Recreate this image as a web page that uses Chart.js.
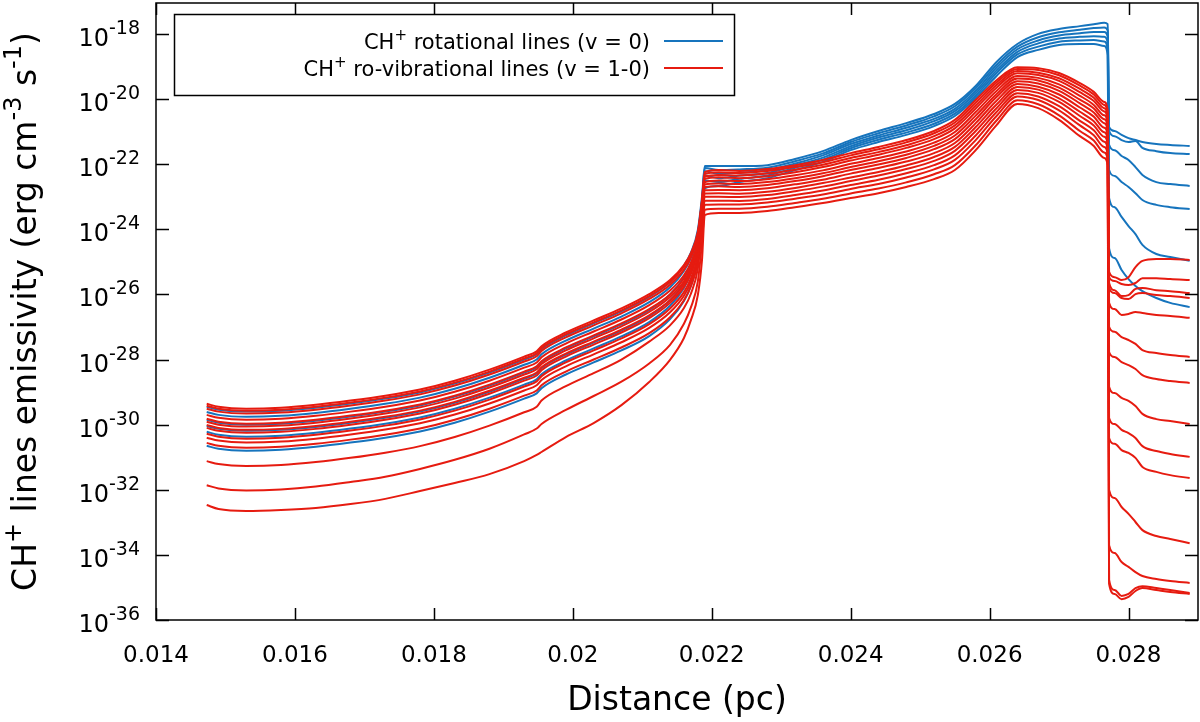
<!DOCTYPE html>
<html>
<head>
<meta charset="utf-8">
<script src="https://cdn.jsdelivr.net/npm/chart.js@4/dist/chart.umd.min.js"></script>
<style>
  html, body { margin: 0; padding: 0; background: #fff; }
  #contenedor { width: 1200px; height: 722px; }
</style>
</head>
<body>
<div id="contenedor"><canvas id="grafico" width="1200" height="722"></canvas></div>
<script>
// Distancia (pc), eje comun de todas las curvas
const distancia = [0.01473, 0.0149, 0.0153, 0.0158, 0.0163, 0.0168, 0.0173, 0.0178, 0.0183, 0.0188, 0.0193, 0.01948, 0.01955, 0.0199, 0.0203, 0.0207, 0.0211, 0.0214, 0.0216, 0.0217, 0.0218, 0.02186, 0.0219,
    0.0221, 0.0224, 0.0228, 0.0232, 0.0236, 0.0240, 0.0244, 0.0248, 0.0252, 0.0255, 0.0258, 0.0261, 0.0264, 0.0267, 0.0270, 0.0273, 0.0275, 0.02765, 0.0277,
    0.02772, 0.0278, 0.0279, 0.0280, 0.0281, 0.0282, 0.0284, 0.0286, 0.02888];

// log10 de la emisividad, lineas rotacionales (v = 0)
const rot1 = [-29.45, -29.54, -29.60, -29.57, -29.48, -29.35, -29.20, -29.01, -28.74, -28.40, -28.00, -27.84, -27.68, -27.26, -26.89, -26.52, -26.08, -25.62, -25.12, -24.72, -24.02, -23.00, -22.06,
    -22.06, -22.06, -22.03, -21.84, -21.60, -21.26, -20.98, -20.74, -20.46, -20.15, -19.60, -18.86, -18.31, -18.00, -17.85, -17.76, -17.70, -17.66, -17.70,
    -20.86, -20.98, -21.10, -21.20, -21.26, -21.32, -21.38, -21.41, -21.44];
const rot2 = [-29.61, -29.70, -29.76, -29.73, -29.64, -29.51, -29.36, -29.17, -28.90, -28.56, -28.16, -28.00, -27.84, -27.42, -27.05, -26.68, -26.24, -25.78, -25.28, -24.88, -24.18, -23.12, -22.12,
    -22.18, -22.16, -22.11, -21.91, -21.67, -21.32, -21.05, -20.81, -20.53, -20.22, -19.67, -18.95, -18.39, -18.10, -17.95, -17.87, -17.82, -17.80, -17.89,
    -20.98, -21.14, -21.26, -21.32, -21.29, -21.50, -21.60, -21.66, -21.69];
const rot3 = [-29.85, -29.94, -30.00, -29.97, -29.88, -29.75, -29.60, -29.41, -29.14, -28.80, -28.40, -28.24, -28.08, -27.66, -27.29, -26.92, -26.48, -26.00, -25.48, -25.06, -24.33, -23.22, -22.22,
    -22.30, -22.26, -22.19, -21.98, -21.73, -21.38, -21.12, -20.88, -20.61, -20.30, -19.75, -19.03, -18.47, -18.20, -18.05, -17.98, -17.94, -17.94, -18.08,
    -21.41, -21.57, -21.75, -21.87, -22.09, -22.33, -22.55, -22.61, -22.67];
const rot4 = [-30.04, -30.13, -30.19, -30.16, -30.07, -29.94, -29.79, -29.60, -29.33, -28.99, -28.59, -28.43, -28.27, -27.85, -27.48, -27.11, -26.67, -26.18, -25.65, -25.21, -24.46, -23.32, -22.35,
    -22.43, -22.35, -22.27, -22.04, -21.80, -21.45, -21.18, -20.96, -20.68, -20.37, -19.82, -19.12, -18.55, -18.29, -18.14, -18.09, -18.07, -18.09, -18.27,
    -22.18, -22.36, -22.55, -22.70, -22.89, -23.10, -23.25, -23.32, -23.38];
const rot5 = [-30.22, -30.31, -30.37, -30.34, -30.25, -30.12, -29.97, -29.78, -29.51, -29.17, -28.77, -28.61, -28.45, -28.03, -27.66, -27.29, -26.85, -26.35, -25.80, -25.35, -24.58, -23.42, -22.50,
    -22.55, -22.45, -22.35, -22.11, -21.86, -21.51, -21.25, -21.03, -20.76, -20.45, -19.90, -19.20, -18.63, -18.39, -18.24, -18.20, -18.19, -18.23, -18.46,
    -23.04, -23.32, -23.62, -23.90, -24.15, -24.48, -24.76, -24.85, -24.97];
const rot6 = [-30.65, -30.74, -30.80, -30.77, -30.68, -30.55, -30.40, -30.21, -29.94, -29.60, -29.20, -29.04, -28.88, -28.46, -28.09, -27.72, -27.28, -26.76, -26.20, -25.74, -24.93, -23.70, -22.74,
    -22.67, -22.55, -22.43, -22.18, -21.93, -21.57, -21.32, -21.10, -20.83, -20.52, -19.97, -19.29, -18.71, -18.49, -18.34, -18.31, -18.31, -18.37, -18.65,
    -24.58, -24.88, -25.25, -25.53, -25.74, -25.90, -26.11, -26.26, -26.39];

// log10 de la emisividad, lineas ro-vibracionales (v = 1-0)
const rovib1 = [-29.36, -29.45, -29.51, -29.48, -29.39, -29.26, -29.11, -28.92, -28.65, -28.31, -27.91, -27.75, -27.59, -27.17, -26.80, -26.43, -25.99, -25.56, -25.10, -24.73, -24.08, -23.10, -22.24,
    -22.18, -22.21, -22.15, -22.03, -21.87, -21.66, -21.47, -21.26, -20.98, -20.64, -20.03, -19.42, -19.02, -19.05, -19.20, -19.51, -19.78, -20.09, -20.34,
    -25.31, -25.47, -25.56, -25.47, -25.16, -24.97, -24.91, -24.91, -24.94];
const rovib2 = [-29.42, -29.51, -29.57, -29.54, -29.45, -29.32, -29.17, -28.98, -28.71, -28.37, -27.97, -27.81, -27.65, -27.23, -26.86, -26.49, -26.05, -25.62, -25.15, -24.78, -24.13, -23.14, -22.30,
    -22.25, -22.27, -22.21, -22.09, -21.94, -21.73, -21.54, -21.33, -21.05, -20.72, -20.11, -19.49, -19.08, -19.11, -19.27, -19.59, -19.86, -20.18, -20.42,
    -25.47, -25.59, -25.68, -25.71, -25.65, -25.50, -25.50, -25.53, -25.56];
const rovib3 = [-29.51, -29.60, -29.66, -29.63, -29.54, -29.41, -29.26, -29.07, -28.80, -28.46, -28.06, -27.90, -27.74, -27.32, -26.95, -26.58, -26.14, -25.70, -25.24, -24.86, -24.19, -23.19, -22.38,
    -22.33, -22.35, -22.29, -22.17, -22.02, -21.81, -21.63, -21.42, -21.14, -20.81, -20.20, -19.57, -19.14, -19.19, -19.36, -19.69, -19.96, -20.28, -20.53,
    -25.65, -25.87, -26.05, -26.02, -25.83, -25.80, -25.87, -25.90, -25.96];
const rovib4 = [-29.70, -29.79, -29.85, -29.82, -29.73, -29.60, -29.45, -29.26, -28.99, -28.65, -28.25, -28.09, -27.93, -27.51, -27.14, -26.77, -26.33, -25.88, -25.41, -25.02, -24.34, -23.30, -22.45,
    -22.40, -22.43, -22.37, -22.25, -22.09, -21.89, -21.71, -21.50, -21.23, -20.90, -20.29, -19.65, -19.21, -19.26, -19.44, -19.79, -20.06, -20.38, -20.63,
    -25.80, -25.96, -26.11, -26.14, -25.99, -25.96, -26.02, -26.05, -26.11];
const rovib5 = [-29.82, -29.91, -29.97, -29.94, -29.85, -29.72, -29.57, -29.38, -29.11, -28.77, -28.37, -28.21, -28.05, -27.63, -27.26, -26.89, -26.45, -26.00, -25.51, -25.12, -24.42, -23.38, -22.55,
    -22.50, -22.52, -22.46, -22.34, -22.19, -21.99, -21.81, -21.61, -21.34, -21.01, -20.40, -19.75, -19.29, -19.35, -19.55, -19.90, -20.18, -20.50, -20.75,
    -26.26, -26.45, -26.63, -26.60, -26.54, -26.57, -26.63, -26.66, -26.72];
const rovib6 = [-29.91, -30.00, -30.06, -30.03, -29.94, -29.81, -29.66, -29.47, -29.20, -28.86, -28.46, -28.30, -28.14, -27.72, -27.35, -26.98, -26.54, -26.08, -25.60, -25.20, -24.49, -23.43, -22.62,
    -22.59, -22.61, -22.55, -22.43, -22.28, -22.09, -21.91, -21.71, -21.44, -21.12, -20.51, -19.85, -19.37, -19.43, -19.65, -20.02, -20.29, -20.62, -20.86,
    -27.00, -27.15, -27.31, -27.40, -27.52, -27.71, -27.80, -27.86, -27.92];
const rovib7 = [-30.01, -30.10, -30.16, -30.13, -30.04, -29.91, -29.76, -29.57, -29.30, -28.96, -28.56, -28.40, -28.24, -27.82, -27.45, -27.08, -26.64, -26.18, -25.69, -25.28, -24.57, -23.49, -22.70,
    -22.68, -22.70, -22.64, -22.52, -22.37, -22.18, -22.01, -21.81, -21.54, -21.23, -20.62, -19.94, -19.45, -19.52, -19.75, -20.13, -20.41, -20.74, -20.98,
    -27.77, -27.92, -28.08, -28.17, -28.29, -28.48, -28.60, -28.66, -28.72];
const rovib8 = [-30.10, -30.19, -30.25, -30.22, -30.13, -30.00, -29.85, -29.66, -29.39, -29.05, -28.65, -28.49, -28.33, -27.91, -27.54, -27.17, -26.73, -26.26, -25.77, -25.36, -24.64, -23.54, -22.80,
    -22.79, -22.80, -22.74, -22.62, -22.48, -22.29, -22.12, -21.92, -21.66, -21.35, -20.74, -20.05, -19.54, -19.62, -19.86, -20.26, -20.54, -20.88, -21.12,
    -28.84, -29.03, -29.18, -29.27, -29.43, -29.67, -29.83, -29.89, -29.98];
const rovib9 = [-30.28, -30.37, -30.43, -30.40, -30.31, -30.18, -30.03, -29.84, -29.57, -29.23, -28.83, -28.67, -28.51, -28.09, -27.72, -27.35, -26.91, -26.43, -25.93, -25.51, -24.77, -23.65, -22.90,
    -22.89, -22.91, -22.85, -22.73, -22.58, -22.41, -22.24, -22.04, -21.78, -21.47, -20.86, -20.17, -19.63, -19.71, -19.98, -20.39, -20.68, -21.02, -21.25,
    -29.80, -29.98, -30.16, -30.26, -30.41, -30.66, -30.81, -30.90, -30.99];
const rovib10 = [-30.40, -30.49, -30.55, -30.52, -30.43, -30.30, -30.15, -29.96, -29.69, -29.35, -28.95, -28.79, -28.63, -28.21, -27.84, -27.47, -27.03, -26.55, -26.04, -25.61, -24.86, -23.72, -23.00,
    -23.00, -23.01, -22.95, -22.83, -22.69, -22.52, -22.35, -22.15, -21.90, -21.59, -20.98, -20.28, -19.72, -19.81, -20.09, -20.52, -20.81, -21.16, -21.39,
    -30.41, -30.59, -30.78, -30.87, -31.02, -31.30, -31.45, -31.55, -31.64];
const rovib11 = [-30.56, -30.65, -30.71, -30.68, -30.59, -30.46, -30.31, -30.12, -29.85, -29.51, -29.11, -28.95, -28.79, -28.37, -28.00, -27.63, -27.19, -26.70, -26.18, -25.75, -24.98, -23.82, -23.12,
    -23.12, -23.13, -23.07, -22.95, -22.81, -22.64, -22.48, -22.28, -22.03, -21.73, -21.12, -20.40, -19.82, -19.92, -20.22, -20.67, -20.96, -21.31, -21.54,
    -32.01, -32.25, -32.53, -32.74, -32.99, -33.24, -33.42, -33.51, -33.64];
const rovib12 = [-31.12, -31.21, -31.27, -31.24, -31.15, -31.02, -30.86, -30.66, -30.38, -30.03, -29.62, -29.45, -29.26, -28.82, -28.42, -28.00, -27.45, -26.95, -26.42, -25.98, -25.20, -24.00, -23.25,
    -23.24, -23.24, -23.18, -23.06, -22.93, -22.76, -22.61, -22.41, -22.16, -21.87, -21.26, -20.52, -19.92, -20.03, -20.35, -20.81, -21.11, -21.47, -21.69,
    -33.70, -33.94, -34.22, -34.37, -34.53, -34.65, -34.74, -34.80, -34.86];
const rovib13 = [-31.86, -31.96, -32.02, -31.99, -31.90, -31.76, -31.60, -31.36, -31.08, -30.74, -30.30, -30.12, -29.98, -29.55, -29.12, -28.68, -28.12, -27.55, -26.90, -26.40, -25.60, -24.40, -23.40,
    -23.37, -23.37, -23.31, -23.19, -23.06, -22.90, -22.75, -22.56, -22.31, -22.03, -21.42, -20.66, -20.04, -20.16, -20.50, -20.98, -21.27, -21.64, -21.86,
    -34.77, -35.08, -35.26, -35.20, -35.02, -34.96, -35.02, -35.08, -35.17];
const rovib14 = [-32.47, -32.59, -32.65, -32.62, -32.56, -32.44, -32.28, -32.04, -31.79, -31.52, -31.12, -30.93, -30.84, -30.38, -29.95, -29.40, -28.69, -28.01, -27.34, -26.79, -26.02, -24.94, -23.56,
    -23.50, -23.50, -23.44, -23.32, -23.19, -23.04, -22.89, -22.70, -22.46, -22.18, -21.57, -20.80, -20.15, -20.28, -20.64, -21.14, -21.44, -21.81, -22.03,
    -34.89, -35.20, -35.36, -35.29, -35.11, -35.02, -35.08, -35.14, -35.20];

// Marcas de los ejes
const ticksX = [0.014, 0.016, 0.018, 0.020, 0.022, 0.024, 0.026, 0.028];
const etiquetasX = ["0.014", "0.016", "0.018", "0.02", "0.022", "0.024", "0.026", "0.028"];
const exponentesY = [-36, -34, -32, -30, -28, -26, -24, -22, -20, -18];

const AZUL = "#1674bd";
const ROJO = "#e61b10";
const FUENTE = '"DejaVu Sans", "Liberation Sans", sans-serif';

const rotacionales = [rot1, rot2, rot3, rot4, rot5, rot6];
const rovibracionales = [rovib1, rovib2, rovib3, rovib4, rovib5, rovib6, rovib7, rovib8, rovib9, rovib10, rovib11, rovib12, rovib13, rovib14];

// Convierte una serie de log10 en un dataset de Chart.js
const crearSerie = (valores, color, orden) => ({
    data: valores.map((v, i) => ({ x: distancia[i], y: Math.pow(10, v) })),
    borderColor: color,
    borderWidth: 2,
    pointRadius: 0,
    fill: false,
    cubicInterpolationMode: "monotone",
    order: orden,
});

// Texto con superindices: partes = [[texto, esSuperindice], ...]
const anchoTexto = (ctx, partes, tam, tamSup) => partes.reduce((ancho, [t, sup]) => {
    ctx.font = `${sup ? tamSup : tam}px ${FUENTE}`;
    return ancho + ctx.measureText(t).width;
}, 0);

const escribir = (ctx, partes, x, y, tam, alineacion, tamSup = Math.round(tam * 0.72), subida = tam * 0.45) => {
    const ancho = anchoTexto(ctx, partes, tam, tamSup);
    let cx = alineacion === "right" ? x - ancho : alineacion === "center" ? x - ancho / 2 : x;
    ctx.textAlign = "left";
    ctx.textBaseline = "alphabetic";
    partes.forEach(([t, sup]) => {
        ctx.font = `${sup ? tamSup : tam}px ${FUENTE}`;
        ctx.fillText(t, cx, sup ? y - subida : y);
        cx += ctx.measureText(t).width;
    });
};

// Marco, marcas, etiquetas, titulos y leyenda al estilo gnuplot
const marcoGnuplot = {
    id: "marcoGnuplot",
    afterDraw(chart) {
        const { ctx, chartArea: a, scales: { x, y } } = chart;
        ctx.save();
        ctx.strokeStyle = "#000";
        ctx.fillStyle = "#000";
        ctx.lineWidth = 1.5;
        ctx.strokeRect(a.left, a.top, a.right - a.left, a.bottom - a.top);

        ctx.beginPath();
        ticksX.forEach(v => {
            const px = Math.round(x.getPixelForValue(v)) + 0.5;
            ctx.moveTo(px, a.bottom); ctx.lineTo(px, a.bottom - 12);
            ctx.moveTo(px, a.top); ctx.lineTo(px, a.top + 12);
        });
        exponentesY.forEach(e => {
            const py = Math.round(y.getPixelForValue(Math.pow(10, e))) + 0.5;
            ctx.moveTo(a.left, py); ctx.lineTo(a.left + 13, py);
            ctx.moveTo(a.right, py); ctx.lineTo(a.right - 13, py);
        });
        ctx.stroke();

        // etiquetas del eje y
        exponentesY.forEach(e => {
            const py = y.getPixelForValue(Math.pow(10, e));
            escribir(ctx, [["10"], [String(e), true]], 140, py + 12, 24, "right", 19, 12);
        });

        // etiquetas del eje x
        ctx.font = `23px ${FUENTE}`;
        ctx.textAlign = "center";
        ctx.textBaseline = "middle";
        ticksX.forEach((v, i) => ctx.fillText(etiquetasX[i], x.getPixelForValue(v), 656));

        // titulos
        ctx.font = `33px ${FUENTE}`;
        ctx.fillText("Distance (pc)", (a.left + a.right) / 2, 701);
        ctx.save();
        ctx.translate(36, (a.top + a.bottom) / 2);
        ctx.rotate(-Math.PI / 2);
        escribir(ctx, [["CH"], ["+", true], [" lines emissivity (erg cm"], ["-3", true], [" s"], ["-1", true], [")"]], 0, 0, 33, "center");
        ctx.restore();

        // leyenda
        ctx.lineWidth = 1.5;
        ctx.strokeRect(174.5, 14.5, 560, 81);
        const filas = [
            { partes: [["CH"], ["+", true], [" rotational lines (v = 0)"]], color: AZUL, y: 41 },
            { partes: [["CH"], ["+", true], [" ro-vibrational lines (v = 1-0)"]], color: ROJO, y: 68 },
        ];
        filas.forEach(f => {
            ctx.fillStyle = "#000";
            escribir(ctx, f.partes, 650, f.y + 8, 21, "right");
            ctx.strokeStyle = f.color;
            ctx.lineWidth = 2;
            ctx.beginPath();
            ctx.moveTo(664, f.y); ctx.lineTo(723, f.y);
            ctx.stroke();
        });
        ctx.restore();
    },
};

new Chart(document.getElementById("grafico").getContext("2d"), {
    type: "line",
    data: {
        datasets: [
            ...rovibracionales.map(s => crearSerie(s, ROJO, 0)),
            ...rotacionales.map(s => crearSerie(s, AZUL, 1)),
        ],
    },
    options: {
        responsive: false,
        animation: false,
        devicePixelRatio: 1,
        layout: { padding: { top: 3, right: 2, left: 0, bottom: 0 } },
        plugins: { legend: { display: false }, tooltip: { enabled: false } },
        scales: {
            x: {
                type: "linear", min: 0.014, max: 0.029,
                grid: { display: false }, border: { display: false },
                ticks: { display: false },
                afterFit: s => { s.height = 102; },
            },
            y: {
                type: "logarithmic", min: 1e-36, max: Math.pow(10, -17.05),
                grid: { display: false }, border: { display: false },
                ticks: { display: false },
                afterFit: s => { s.width = 156; },
            },
        },
    },
    plugins: [marcoGnuplot],
});
</script>
</body>
</html>
